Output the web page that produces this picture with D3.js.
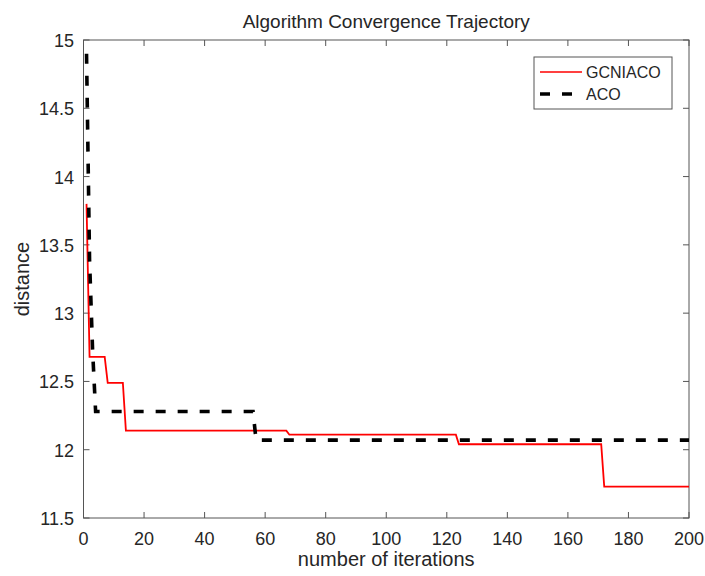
<!DOCTYPE html>
<html><head><meta charset="utf-8">
<script src="https://cdn.jsdelivr.net/npm/d3@7"></script>
<style>body{margin:0;background:#fff}svg{display:block}text{font-family:"Liberation Sans",Arial,sans-serif;fill:#262626}</style>
</head><body>
<script>
const gcniacoIter = [1, 2, 7, 8, 13, 14, 67, 68, 123, 124, 171, 172, 200];
const gcniacoVal  = [13.8, 12.68, 12.68, 12.49, 12.49, 12.14, 12.14, 12.11, 12.11, 12.04, 12.04, 11.73, 11.73];
const acoIter = [1, 2, 3, 4, 56, 57, 200];
const acoVal  = [14.9, 13.39, 12.73, 12.28, 12.28, 12.07, 12.07];
const xTicks = [0, 20, 40, 60, 80, 100, 120, 140, 160, 180, 200];
const yTicks = [11.5, 12, 12.5, 13, 13.5, 14, 14.5, 15];
const seriesNames = ["GCNIACO", "ACO"];

const W = 705, H = 576;
const L = 83.5, R = 689, T = 40, B = 518;
const svg = d3.select("body").append("svg").attr("width", W).attr("height", H);
const x = d3.scaleLinear().domain([0, 200]).range([L, R]);
const y = d3.scaleLinear().domain([11.5, 15]).range([B, T]);

const axisColor = "#555";
svg.append("rect").attr("x", L).attr("y", T).attr("width", R - L).attr("height", B - T)
  .attr("fill", "none").attr("stroke", axisColor).attr("stroke-width", 1);

const tl = 6;
const g = svg.append("g");
xTicks.forEach(v => {
  g.append("line").attr("x1", x(v)).attr("x2", x(v)).attr("y1", B).attr("y2", B - tl).attr("stroke", axisColor);
  g.append("line").attr("x1", x(v)).attr("x2", x(v)).attr("y1", T).attr("y2", T + tl).attr("stroke", axisColor);
  g.append("text").attr("x", x(v)).attr("y", 545).attr("text-anchor", "middle").attr("font-size", 18).text(v);
});
yTicks.forEach(v => {
  g.append("line").attr("x1", L).attr("x2", L + tl).attr("y1", y(v)).attr("y2", y(v)).attr("stroke", axisColor);
  g.append("line").attr("x1", R).attr("x2", R - tl).attr("y1", y(v)).attr("y2", y(v)).attr("stroke", axisColor);
  g.append("text").attr("x", 74).attr("y", y(v) + 7).attr("text-anchor", "end").attr("font-size", 18).text(v);
});

const line = d3.line().x(d => x(d[0])).y(d => y(d[1]));
const redData = gcniacoIter.map((v, i) => [v, gcniacoVal[i]]);
const acoData = acoIter.map((v, i) => [v, acoVal[i]]);

svg.append("path").datum(redData).attr("d", line).attr("fill", "none")
  .attr("stroke", "#ff0000").attr("stroke-width", 1.8);
svg.append("path").datum(acoData).attr("d", line).attr("fill", "none")
  .attr("stroke", "#000").attr("stroke-width", 3.6).attr("stroke-dasharray", "10,12");

svg.append("text").attr("x", (L + R) / 2).attr("y", 28).attr("text-anchor", "middle")
  .attr("font-size", 19).text("Algorithm Convergence Trajectory");
svg.append("text").attr("x", (L + R) / 2).attr("y", 566).attr("text-anchor", "middle")
  .attr("font-size", 20).text("number of iterations");
svg.append("text").attr("transform", `translate(29,${(T + B) / 2}) rotate(-90)`).attr("text-anchor", "middle")
  .attr("font-size", 20).text("distance");

const lg = svg.append("g");
lg.append("rect").attr("x", 534).attr("y", 57).attr("width", 138).attr("height", 52)
  .attr("fill", "#fff").attr("stroke", axisColor).attr("stroke-width", 1);
lg.append("line").attr("x1", 540).attr("x2", 582).attr("y1", 72).attr("y2", 72)
  .attr("stroke", "#ff0000").attr("stroke-width", 1.5);
lg.append("line").attr("x1", 540).attr("x2", 582).attr("y1", 94).attr("y2", 94)
  .attr("stroke", "#000").attr("stroke-width", 3.6).attr("stroke-dasharray", "10,12");
lg.append("text").attr("x", 586).attr("y", 78).attr("font-size", 16).text(seriesNames[0]);
lg.append("text").attr("x", 586).attr("y", 100).attr("font-size", 16).text(seriesNames[1]);
</script>
</body></html>
